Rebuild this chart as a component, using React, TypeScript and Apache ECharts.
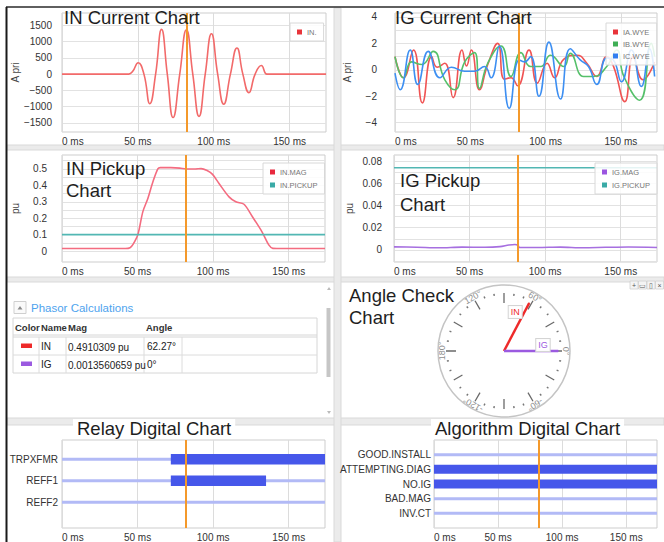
import React, { useEffect, useRef } from 'react';
import * as echarts from 'echarts';

const FONT = '"Liberation Sans", Arial, sans-serif';

// ---- shared time base ----
const timeMax = 174;
const cursorMs = 82;
const timeTicks = [0, 50, 100, 150];

// ---- IN current (A pri): peaks, troughs and zero crossings ----
const inCurrentMs = [0, 40, 44, 46.5, 50.2, 54, 57.9, 61.7, 65.6, 69.4, 73.2, 77.6, 82, 86.2, 90.3, 94.4, 98.5, 102.6, 106.6, 111, 115.3, 119.2, 123.2, 127.3, 131.4, 135, 138, 174];
const inCurrentA = [0, 0, 0, 80, 350, 0, -910, 0, 1375, 0, -1335, 0, 1365, 0, -1300, 0, 1240, 0, -925, 0, 805, 0, -570, 0, 265, 0, 0, 0];

// ---- IG current, three phases (A pri) ----
const iaWye = [[0, 1.0], [5.7, -0.6], [12.3, 1.5], [18.2, -2.5], [24.3, 1.0], [28, 0.2], [33, 0.5], [38.6, -2.1], [44.5, 1.5], [47.5, 0.3], [50.7, 1.5], [56.1, -1.5], [61.6, 0.4], [68.2, 2.0], [72.6, -0.7], [77, -0.6], [81.4, -1.2], [89, 1.5], [94.5, -1.0], [101, 0.5], [106, -0.6], [112, 0.8], [120.8, 1.1], [127.4, 0.5], [134, -0.5], [140.6, 1.0], [145, 0.3], [152.6, -2.4], [158.1, 1.0], [164.7, -0.75], [172.4, 0.6]];
const ibWye = [[0, 1.0], [5.7, -0.6], [11, 0.6], [17.8, 0.4], [25.4, 1.4], [33.1, -0.75], [39.7, -1.5], [46.3, 0.6], [52.9, 1.3], [56.1, -1.4], [61.6, 0.5], [70.4, 1.8], [77, -0.5], [83.6, 1.3], [90.1, 0.25], [96.7, 0.25], [103.3, 1.1], [112.1, 0.25], [116.4, 1.25], [125.2, -0.5], [131.8, -0.5], [140.6, 0.25], [147.2, 1.5], [152, -0.5], [162.5, -2.3], [170.2, 2.0], [172.4, 1.0]];
const icWye = [[0, -0.25], [3.5, -1.5], [10.1, 1.5], [15.1, -1.1], [22.1, 1.4], [29.8, -0.6], [37.5, 0.2], [46.3, -0.1], [52.9, -0.1], [59.4, 0.25], [63.8, -0.6], [69.3, 1.8], [75.9, -2.9], [82.5, 0.75], [86, 0.6], [90.1, 1.0], [95.6, -2.0], [102.2, 2.1], [109.9, -2.2], [116.4, 1.6], [123, 0.75], [128.5, 0.25], [134, -1.1], [140.6, 0.9], [145, 0.75], [150.4, -0.9], [157, 1.5], [163.6, -1.25], [169.1, 1.6], [172.4, -0.5]];

// ---- IN pickup (pu) ----
const inMagMs = [0, 42, 45, 47, 50.2, 53.5, 56.8, 60.1, 63.4, 65, 72, 78, 82, 88, 92, 96, 99.6, 104, 110.5, 115, 120.4, 125.9, 132.5, 136.8, 139.5, 142, 174];
const inMagPu = [0.015, 0.015, 0.02, 0.04, 0.1, 0.24, 0.32, 0.42, 0.5, 0.508, 0.508, 0.505, 0.5, 0.5, 0.502, 0.49, 0.467, 0.41, 0.33, 0.3, 0.285, 0.21, 0.114, 0.037, 0.016, 0.015, 0.015];
const inPickupPu = 0.1;

// ---- IG pickup (pu) ----
const igMagMs = [0, 15, 30, 45, 60, 70, 76, 80, 82, 83, 95, 110, 125, 140, 155, 174];
const igMagPu = [0.0028, 0.0025, 0.002, 0.0026, 0.0024, 0.003, 0.0045, 0.005, 0.0042, 0.0022, 0.0022, 0.0026, 0.002, 0.0024, 0.0027, 0.0023];
const igPickupPu = 0.074;

// ---- digital channels: [on start, on end] in ms, null = never asserted ----
const relayChannels = ['TRPXFMR', 'REFF1', 'REFF2'];
const relayOnSpans: ([number, number] | null)[] = [[72, 174], [72, 135], null];
const algoChannels = ['GOOD.INSTALL', 'ATTEMPTING.DIAG', 'NO.IG', 'BAD.MAG', 'INV.CT'];
const algoOnSpans: ([number, number] | null)[] = [null, [0, 174], [0, 174], null, null];

// ---- phasors ----
const phasorNames = ['IN', 'IG'];
const phasorMags = [0.4910309, 0.0013560659];
const phasorAngles = [62.27, 0];
const phasorColors = ['#ee2a2a', '#9b5ae0'];
const dialLabelAngles = [0, 60, 120, 180, -120, -60];

// ---- layout constants ----
const dialCenter = [504, 351];
const dialLabelR = 62;

const pairs = (xs: number[], ys: number[]) => xs.map((x, i) => [x, ys[i]]);
const signed = (v: number) => (v < 0 ? '\u2212' + Math.abs(v) : String(v));
const trim = (v: number) => String(+v.toFixed(3));

const cursorLine = {
  silent: true,
  symbol: ['none', 'none'],
  label: { show: false },
  emphasis: { disabled: true },
  lineStyle: { color: '#f4992b', width: 2, type: 'solid' },
  data: [{ xAxis: cursorMs }],
};

function timeAxis(gridIndex: number) {
  return {
    type: 'value',
    gridIndex,
    min: 0,
    max: timeMax,
    axisLine: { show: false },
    axisTick: { show: false, customValues: timeTicks },
    axisLabel: {
      customValues: timeTicks,
      formatter: (v: number) => `${v} ms`,
      fontSize: 10,
      color: '#333',
      margin: 4,
      alignMinLabel: 'left',
    },
    splitLine: { show: true, lineStyle: { color: '#dcdcdc', width: 1 } },
  };
}

function levelAxis(
  gridIndex: number,
  min: number,
  max: number,
  labels: number[],
  ticks: number[],
  fmt: (v: number) => string,
  margin: number,
  name = '',
  nameGap = 0,
  split = true
) {
  return {
    type: 'value',
    gridIndex,
    min,
    max,
    name,
    nameLocation: 'middle',
    nameGap,
    nameTextStyle: { fontSize: 10, color: '#444' },
    axisLine: { show: false },
    axisTick: { show: false, customValues: ticks },
    axisLabel: { customValues: labels, formatter: fmt, fontSize: 10, color: '#333', margin },
    splitLine: { show: split, lineStyle: { color: '#e2e2e2', width: 1 } },
  };
}

const legendBase = {
  orient: 'vertical',
  icon: 'rect',
  itemWidth: 5,
  itemHeight: 5,
  itemGap: 4,
  padding: [5, 7],
  backgroundColor: 'rgba(255,255,255,0.85)',
  borderColor: '#d8d8d8',
  borderWidth: 1,
  textStyle: { fontSize: 7.5, color: '#777' },
  selectedMode: false,
};

function buildOption() {
  const series: any[] = [];
  const wave = (name: string, data: any, color: string, x: number, extra: any = {}) => ({
    type: 'line',
    name,
    xAxisIndex: x,
    yAxisIndex: x,
    data,
    showSymbol: false,
    smooth: 0.5,
    lineStyle: { color, width: 1.6 },
    itemStyle: { color },
    silent: true,
    ...extra,
  });

  // IN current
  series.push(wave('IN.', pairs(inCurrentMs, inCurrentA), '#f26a6a', 0, { markLine: cursorLine }));
  // IG current
  series.push(wave('IA.WYE', iaWye, '#f05454', 1));
  series.push(wave('IB.WYE', ibWye, '#55c06a', 1));
  series.push(wave('IC.WYE', icWye, '#3d8ff2', 1, { markLine: cursorLine }));
  // IN pickup
  series.push(wave('IN.MAG', pairs(inMagMs, inMagPu), '#f46c80', 2, { smooth: 0.3 }));
  series.push(wave('IN.PICKUP', [[0, inPickupPu], [timeMax, inPickupPu]], '#52b7b3', 2, { smooth: false, markLine: cursorLine }));
  // IG pickup
  series.push(wave('IG.MAG', pairs(igMagMs, igMagPu), '#a66fe0', 3, { smooth: 0.3 }));
  series.push(wave('IG.PICKUP', [[0, igPickupPu], [timeMax, igPickupPu]], '#52b7b3', 3, { smooth: false, markLine: cursorLine }));

  // digital charts
  const digital = (channels: string[], spans: ([number, number] | null)[], axis: number, barWidth: number) => {
    channels.forEach((ch, i) => {
      const level = channels.length - i;
      series.push({
        type: 'line',
        name: ch,
        xAxisIndex: axis,
        yAxisIndex: axis,
        data: [[0, level], [timeMax, level]],
        showSymbol: false,
        silent: true,
        lineStyle: { color: '#b2baf6', width: 3 },
      });
      const span = spans[i];
      if (span) {
        series.push({
          type: 'line',
          name: ch + ' on',
          xAxisIndex: axis,
          yAxisIndex: axis,
          data: [[span[0], level], [span[1], level]],
          showSymbol: false,
          silent: true,
          lineStyle: { color: '#4657ea', width: barWidth },
        });
      }
    });
    series[series.length - 1].markLine = cursorLine;
  };
  digital(relayChannels, relayOnSpans, 4, 10.5);
  digital(algoChannels, algoOnSpans, 5, 9);

  // phasor vectors on the angle dial
  const labelOffsets = [[-4, 9], [-5, -6]];
  phasorNames.forEach((n, i) => {
    const c = phasorColors[i];
    series.push({
      type: 'line',
      name: n + ' phasor',
      coordinateSystem: 'polar',
      polarIndex: 1,
      showSymbol: true,
      symbol: 'circle',
      silent: true,
      z: 5,
      lineStyle: { color: c, width: 2.5 },
      itemStyle: { color: c },
      data: [
        { value: [0, phasorAngles[i]], symbolSize: 0 },
        {
          value: [1, phasorAngles[i]],
          symbolSize: 1,
          label: {
            show: true,
            formatter: n,
            position: 'left',
            distance: 3,
            offset: labelOffsets[i],
            color: c,
            fontSize: 9,
            backgroundColor: 'rgba(255,255,255,0.92)',
            borderColor: '#d4d4d4',
            borderWidth: 1,
            padding: [2, 2, 1, 2],
          },
        },
      ],
    });
  });

  // ---- static decorations: frame, separators, phasor table, dial labels ----
  const g: any[] = [];
  const sep = '#ebebeb';
  const sepEdge = '#d9d9d9';
  g.push({ type: 'rect', shape: { x: 7, y: 145, width: 657, height: 5 }, style: { fill: sep, stroke: sepEdge, lineWidth: 1 }, silent: true, z: -10 });
  g.push({ type: 'rect', shape: { x: 7, y: 277, width: 657, height: 5 }, style: { fill: sep, stroke: sepEdge, lineWidth: 1 }, silent: true, z: -10 });
  g.push({ type: 'rect', shape: { x: 7, y: 418, width: 657, height: 7 }, style: { fill: sep, stroke: sepEdge, lineWidth: 1 }, silent: true, z: -10 });
  g.push({ type: 'rect', shape: { x: 334, y: 8, width: 7, height: 534 }, style: { fill: sep, stroke: sepEdge, lineWidth: 1 }, silent: true, z: -10 });
  g.push({ type: 'line', shape: { x1: 6, y1: 7, x2: 664, y2: 7 }, style: { stroke: '#2a2a2a', lineWidth: 1.5 }, silent: true });
  g.push({ type: 'line', shape: { x1: 6.5, y1: 7, x2: 6.5, y2: 542 }, style: { stroke: '#1a1a1a', lineWidth: 2 }, silent: true });

  // phasor calculations table
  const txt = (text: string, x: number, y: number, extra: any = {}) => ({
    type: 'text',
    x,
    y,
    silent: true,
    style: { text, fill: '#222', fontSize: 10, fontFamily: FONT, verticalAlign: 'middle', ...extra },
  });
  g.push({ type: 'rect', shape: { x: 14, y: 301.5, width: 12, height: 12 }, style: { fill: '#fafafa', stroke: '#cfcfcf', lineWidth: 1 }, silent: true });
  g.push({ type: 'polygon', shape: { points: [[17.5, 309.5], [22.5, 309.5], [20, 306]] }, style: { fill: '#8a8a8a' }, silent: true });
  g.push(txt('Phasor Calculations', 31, 308, { fill: '#4ea3ee', fontSize: 11.5 }));
  g.push({ type: 'rect', shape: { x: 13, y: 318, width: 304, height: 55 }, style: { fill: '#fff', stroke: '#d6d6d6', lineWidth: 1 }, silent: true });
  g.push({ type: 'line', shape: { x1: 13, y1: 335, x2: 317, y2: 335 }, style: { stroke: '#d6d6d6', lineWidth: 1 }, silent: true });
  g.push({ type: 'line', shape: { x1: 13, y1: 337, x2: 317, y2: 337 }, style: { stroke: '#d6d6d6', lineWidth: 1 }, silent: true });
  g.push({ type: 'line', shape: { x1: 13, y1: 355, x2: 317, y2: 355 }, style: { stroke: '#dcdcdc', lineWidth: 1 }, silent: true });
  [39, 66, 144, 182].forEach((x) =>
    g.push({ type: 'line', shape: { x1: x, y1: 337, x2: x, y2: 373 }, style: { stroke: '#dcdcdc', lineWidth: 1 }, silent: true })
  );
  const hdr = { fontWeight: 'bold', fontSize: 9.5, fill: '#333' };
  g.push(txt('Color', 15, 327, hdr));
  g.push(txt('Name', 41, 327, hdr));
  g.push(txt('Mag', 68, 327, hdr));
  g.push(txt('Angle', 146, 327, hdr));
  const rowY = [346, 364];
  phasorNames.forEach((n, i) => {
    g.push({ type: 'rect', shape: { x: 21, y: rowY[i] - 2.5, width: 11, height: 4.5 }, style: { fill: phasorColors[i] }, silent: true });
    g.push(txt(n, 41, rowY[i]));
    g.push(txt(`${phasorMags[i]} pu`, 68, rowY[i] + 1));
    g.push(txt(`${phasorAngles[i]}°`, 147, rowY[i]));
  });
  // scroll bar
  g.push({ type: 'rect', shape: { x: 326.5, y: 308, width: 4, height: 69 }, style: { fill: '#c6c6c6' }, silent: true });
  g.push({ type: 'polygon', shape: { points: [[327, 290], [331, 290], [329, 287]] }, style: { fill: '#bbb' }, silent: true });
  g.push({ type: 'polygon', shape: { points: [[327, 411], [331, 411], [329, 414]] }, style: { fill: '#bbb' }, silent: true });

  // tiny window buttons on the angle panel
  ['+', '▭', '▯', '×'].forEach((s, i) => {
    const x = 630 + i * 8.5;
    g.push({ type: 'rect', shape: { x, y: 281, width: 8, height: 8 }, style: { fill: '#f4f4f4', stroke: '#d0d0d0', lineWidth: 0.8 }, silent: true });
    g.push(txt(s, x + 4, 285.5, { fontSize: 7, fill: '#555', align: 'center' }));
  });

  // dial angle labels, written along the rim
  dialLabelAngles.forEach((a) => {
    const rad = (a * Math.PI) / 180;
    g.push({
      type: 'text',
      x: dialCenter[0] + dialLabelR * Math.cos(rad),
      y: dialCenter[1] - dialLabelR * Math.sin(rad),
      rotation: rad - Math.PI / 2,
      silent: true,
      style: { text: `${a}°`, fill: '#8f8f8f', fontSize: 9, fontFamily: FONT, align: 'center', verticalAlign: 'middle' },
    });
  });

  const titleStyle = { fontSize: 18.5, fontWeight: 'normal', color: '#1e1e1e', fontFamily: FONT };
  const title = [
    { text: 'IN Current Chart', left: 64, top: 8, padding: 0, textStyle: titleStyle },
    { text: 'IG Current Chart', left: 395, top: 8, padding: 0, textStyle: titleStyle },
    { text: 'IN Pickup\nChart', left: 66, top: 157, padding: 0, textStyle: { ...titleStyle, lineHeight: 22 } },
    { text: 'IG Pickup\nChart', left: 400, top: 168, padding: 0, textStyle: { ...titleStyle, lineHeight: 24 } },
    { text: 'Angle Check\nChart', left: 349, top: 284, padding: 0, textStyle: { ...titleStyle, lineHeight: 22 } },
    { text: 'Relay Digital Chart', left: 73, top: 419, padding: [0, 4], backgroundColor: '#fff', textStyle: titleStyle },
    { text: 'Algorithm Digital Chart', left: 431, top: 419, padding: [0, 4], backgroundColor: '#fff', textStyle: titleStyle },
  ];

  const gridBase = { show: true, borderColor: '#cdcdcd', borderWidth: 1, backgroundColor: 'transparent', containLabel: false };
  const grid = [
    { ...gridBase, left: 62, top: 13, width: 264, height: 119 },
    { ...gridBase, left: 395, top: 13, width: 262, height: 119 },
    { ...gridBase, left: 62, top: 155, width: 263, height: 107 },
    { ...gridBase, left: 394, top: 155, width: 263, height: 107 },
    { ...gridBase, left: 62, top: 440, width: 263, height: 88 },
    { ...gridBase, left: 434, top: 440, width: 223, height: 88 },
  ];

  const xAxis = [0, 1, 2, 3, 4, 5].map(timeAxis);
  const yAxis = [
    levelAxis(0, -1780, 1880, [-1500, -1000, -500, 0, 500, 1000, 1500], [-1500, -1000, -500, 0, 500, 1000, 1500], signed, 10, 'A pri', 42),
    levelAxis(1, -4.7, 4.3, [-4, -2, 0, 2, 4], [-4, -3, -2, -1, 0, 1, 2, 3, 4], signed, 18, 'A pri', 43),
    levelAxis(2, -0.067, 0.585, [0, 0.1, 0.2, 0.3, 0.4, 0.5], [0, 0.05, 0.1, 0.15, 0.2, 0.25, 0.3, 0.35, 0.4, 0.45, 0.5, 0.55], trim, 15, 'pu', 42),
    levelAxis(3, -0.0108, 0.0854, [0, 0.02, 0.04, 0.06, 0.08], [-0.01, 0, 0.01, 0.02, 0.03, 0.04, 0.05, 0.06, 0.07, 0.08], trim, 12, 'pu', 40),
    levelAxis(4, -0.2, 3.9, [1, 2, 3], [1, 2, 3], (v: number) => relayChannels[relayChannels.length - v] ?? '', 4, '', 0, false),
    levelAxis(5, 0, 6, [1, 2, 3, 4, 5], [1, 2, 3, 4, 5], (v: number) => algoChannels[algoChannels.length - v] ?? '', 3, '', 0, false),
  ];

  const legend = [
    { ...legendBase, left: 290, top: 23, data: [{ name: 'IN.', itemStyle: { color: '#e8343a' } }] },
    {
      ...legendBase,
      left: 606,
      top: 23,
      itemGap: 4,
      data: [
        { name: 'IA.WYE', itemStyle: { color: '#e8343a' } },
        { name: 'IB.WYE', itemStyle: { color: '#3fae55' } },
        { name: 'IC.WYE', itemStyle: { color: '#2f7ff0' } },
      ],
    },
    {
      ...legendBase,
      left: 263,
      top: 163,
      itemGap: 5,
      data: [
        { name: 'IN.MAG', itemStyle: { color: '#e8283e' } },
        { name: 'IN.PICKUP', itemStyle: { color: '#3aaaa6' } },
      ],
    },
    {
      ...legendBase,
      left: 595,
      top: 163,
      itemGap: 5,
      data: [
        { name: 'IG.MAG', itemStyle: { color: '#9b55e0' } },
        { name: 'IG.PICKUP', itemStyle: { color: '#3aaaa6' } },
      ],
    },
  ];

  const angleBase = { type: 'value', min: -180, max: 180, startAngle: 180, clockwise: false, splitLine: { show: false }, axisLabel: { show: false } };
  const polar = [
    { center: dialCenter, radius: 66 },
    { center: dialCenter, radius: 58 },
  ];
  const angleAxis = [
    { ...angleBase, polarIndex: 0, axisLine: { show: true, lineStyle: { color: '#c4c4c4', width: 1.5 } }, axisTick: { show: false } },
    {
      ...angleBase,
      polarIndex: 1,
      interval: 30,
      axisLine: { show: false },
      axisTick: { show: true, inside: true, length: 10, lineStyle: { color: '#6a6a6a', width: 1.3 } },
      minorTick: { show: true, splitNumber: 3, length: 2, lineStyle: { color: '#777', width: 1.5 } },
    },
  ];
  const radiusAxis = [
    { polarIndex: 0, type: 'value', min: 0, max: 1, show: false },
    { polarIndex: 1, type: 'value', min: 0, max: 1.07, show: false },
  ];

  return {
    animation: false,
    backgroundColor: '#fff',
    textStyle: { fontFamily: FONT },
    title,
    grid,
    xAxis,
    yAxis,
    legend,
    polar,
    angleAxis,
    radiusAxis,
    series,
    graphic: { elements: g },
  };
}

export default function App() {
  const ref = useRef<HTMLDivElement>(null);
  useEffect(() => {
    if (!ref.current) return;
    const chart = echarts.init(ref.current, null, { renderer: 'svg', width: 664, height: 542 });
    chart.setOption(buildOption() as any);
    return () => chart.dispose();
  }, []);
  return <div ref={ref} style={{ position: 'absolute', left: 0, top: 0, width: 664, height: 542, background: '#fff' }} />;
}
